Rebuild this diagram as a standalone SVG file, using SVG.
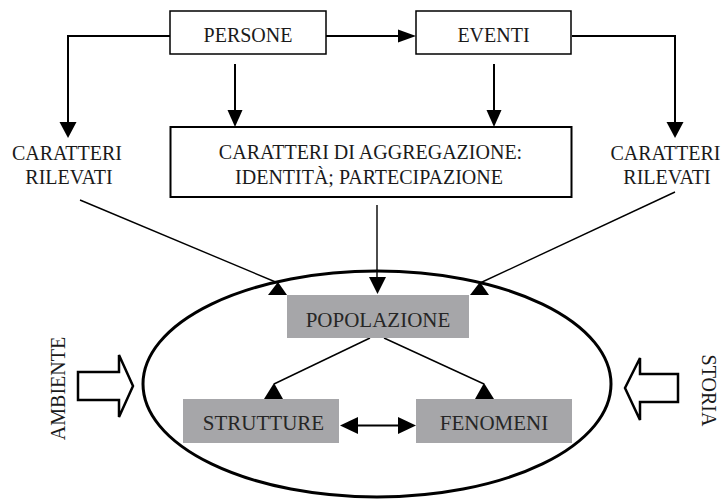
<svg xmlns="http://www.w3.org/2000/svg" width="724" height="499" viewBox="0 0 724 499" font-family="Liberation Serif, DejaVu Serif, serif">
<style>
text{font-size:20px;fill:#1a1a1a;text-anchor:middle}
.g text{font-size:21px;fill:#262626}
.box{fill:#fff;stroke:#000;stroke-width:1.5}
.gbox{fill:#a6a6a9;stroke:none}
.thick{fill:none;stroke:#000;stroke-width:2}
.thin{fill:none;stroke:#000;stroke-width:1.4}
.head{fill:#000;stroke:none}
.block{fill:#fff;stroke:#000;stroke-width:2.5;stroke-linejoin:miter}
</style>
<rect width="724" height="499" fill="#fff"/>
<g id="connectors">
<path class="thick" d="M326 36 H399"/>
<polygon class="head" points="416,36 398,29.5 398,42.5"/>
<path class="thick" d="M170 36 H68 V123"/>
<polygon class="head" points="68,138 59.5,122 76.5,122"/>
<path class="thick" d="M572 36 H675 V123"/>
<polygon class="head" points="675,138 666.5,122 683.5,122"/>
<path class="thick" d="M235 64 V111"/>
<polygon class="head" points="235,127 227.5,110 242.5,110"/>
<path class="thick" d="M494 64 V111"/>
<polygon class="head" points="494,127 486.5,110 501.5,110"/>
<path class="thin" d="M377 205 V278"/>
<polygon class="head" points="377.5,294 369,277 386,277"/>
<path class="thin" d="M80 200 L278 283"/>
<polygon class="head" points="278,282 268,295 287,295"/>
<path class="thin" d="M675 192 L480 283"/>
<polygon class="head" points="480,282 470,295 489,295"/>
<path class="thin" d="M370 338 L274 384"/>
<polygon class="head" points="274,383 264,399 283,399"/>
<path class="thin" d="M384 338 L484 384"/>
<polygon class="head" points="484,383 475,399 494,399"/>
<path class="thick" d="M356 425.5 H400"/>
<polygon class="head" points="340,425.5 358,417 358,434"/>
<polygon class="head" points="416,425.5 398,417 398,434"/>
</g>
<g id="ellipse"><ellipse cx="377" cy="384" rx="234" ry="113" fill="none" stroke="#000" stroke-width="3"/></g>
<g id="persone"><rect class="box" x="170" y="11" width="156" height="43"/><text x="248" y="42">PERSONE</text></g>
<g id="eventi"><rect class="box" x="416" y="11" width="155" height="43"/><text x="493.5" y="42">EVENTI</text></g>
<g id="aggregazione"><rect x="170.5" y="127" width="401" height="70" fill="#fff" stroke="#000" stroke-width="2"/>
<text x="370.5" y="159">CARATTERI DI AGGREGAZIONE:</text>
<text x="369" y="184">IDENTITÀ; PARTECIPAZIONE</text></g>
<g id="caratteri-sx"><text x="67" y="160">CARATTERI</text><text x="69" y="184">RILEVATI</text></g>
<g id="caratteri-dx"><text x="665.5" y="160">CARATTERI</text><text x="667" y="184">RILEVATI</text></g>
<g id="popolazione" class="g"><rect class="gbox" x="287" y="295" width="182" height="43"/><text x="378" y="327">POPOLAZIONE</text></g>
<g id="strutture" class="g"><rect class="gbox" x="183" y="399" width="156" height="44"/><text x="263.5" y="430">STRUTTURE</text></g>
<g id="fenomeni" class="g"><rect class="gbox" x="416" y="399" width="156" height="44"/><text x="494" y="430">FENOMENI</text></g>
<g id="ambiente">
<polygon class="block" points="78,372 119,372 119,355 133,386 119,417 119,400 78,400"/>
<text transform="translate(65,388.5) rotate(-90)" x="0" y="0">AMBIENTE</text>
</g>
<g id="storia">
<polygon class="block" points="678,374 640,374 640,358 625,388 640,420 640,402 678,402"/>
<text transform="translate(702,390.5) rotate(90)" x="0" y="0">STORIA</text>
</g>
</svg>
